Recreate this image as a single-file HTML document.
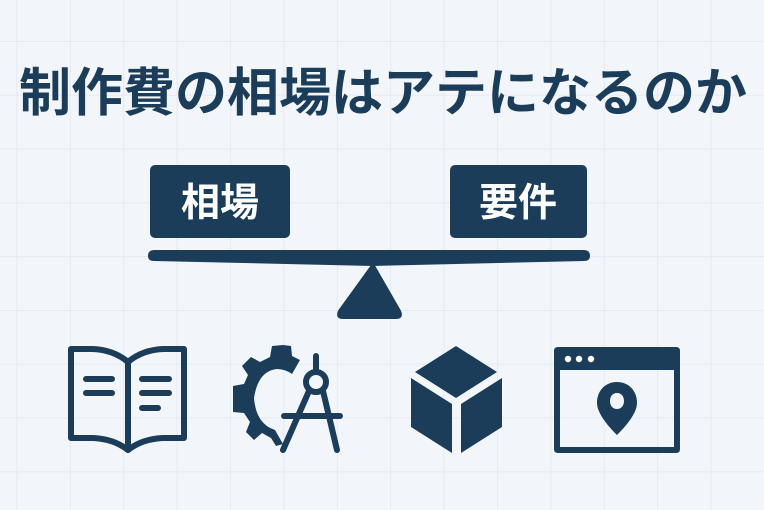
<!DOCTYPE html>
<html><head><meta charset="utf-8"><style>
body{margin:0;width:764px;height:510px;overflow:hidden;background:#f2f5f9;}
svg{display:block}
text{font-family:"Liberation Sans","Noto Sans CJK JP",sans-serif;font-weight:bold}
</style></head><body>
<svg width="764" height="510" viewBox="0 0 764 510" xmlns="http://www.w3.org/2000/svg">
<defs><pattern id="g" x="16.5" y="41" width="53.4" height="53.8" patternUnits="userSpaceOnUse">
<path d="M0 0V53.8M0 0H53.4" stroke="#e2e7ee" stroke-width="1.5" fill="none"/></pattern></defs>
<rect width="764" height="510" fill="url(#g)"/>
<g fill="#1b3d5a" stroke="none">
<text x="383" y="111" font-size="52" text-anchor="middle" fill="#1b3d5a">制作費の相場はアテになるのか</text>
<rect x="150" y="165" width="140" height="73" rx="5"/>
<rect x="450" y="165" width="137" height="73" rx="5"/>
<text x="220" y="216" font-size="39" text-anchor="middle" fill="#fff">相場</text>
<text x="518" y="216" font-size="39" text-anchor="middle" fill="#fff">要件</text>
<path d="M154 250 H584 Q590 250 590 256 Q590 261 584 261 L373 266 L154 261 Q148 261 148 256 Q148 250 154 250Z"/>
<path d="M373 264 L400 311 Q403 318 396 318 H343 Q336 318 339 311Z" stroke="#1b3d5a" stroke-width="2" stroke-linejoin="round"/>
</g>
<g fill="none" stroke="#1b3d5a" stroke-width="6" stroke-linecap="round" stroke-linejoin="round">
<path d="M71 349 H93 Q114 350 128 362 Q142 350 163 349 H184 V438 H163 Q142 439 128 450 Q114 439 93 438 H71Z"/>
<path d="M128 362 V450"/>
<path d="M86 379H112M86 393H112M142 379H169M142 393H169M142 408H158"/>
<circle cx="316" cy="382" r="10"/>
<path d="M316 356V371M309 391L283 450M323 391L337 450M284 416H340"/>
</g>
<g fill="#1b3d5a">
<path d="M283 345 L291 346 L292 356 L300 360 L292 374 Q285 369 277 369 Q258 371 254 398 Q256 424 275 430 L283 444 L276 446 L271 438 L262 433 L254 440 L246 432 L250 422 L244 413 L233 412 L233 386 L244 384 L248 375 L242 366 L251 357 L260 362 L270 357 L272 346Z"/>
<path d="M456 346 L497 372 L456 398 L415 372Z"/>
<path d="M411 378 L452 404 L452 453 L411 427Z"/>
<path d="M502 378 L461 404 L461 453 L502 427Z"/>
<path fill-rule="evenodd" d="M558 347 H676 Q680 347 680 351 V449 Q680 453 676 453 H558 Q554 453 554 449 V351 Q554 347 558 347Z M560 370 V447 H674 V370Z"/>
<circle cx="568" cy="359" r="3.2" fill="#fff"/><circle cx="579" cy="359" r="3.2" fill="#fff"/><circle cx="591" cy="359" r="3.2" fill="#fff"/>
<path fill-rule="evenodd" d="M617 382 C605 382 597 391 597 403 C597 414 610 428 617 435 C624 428 637 414 637 403 C637 391 629 382 617 382Z M617 393 C612 393 610 397 610 401 C610 406 613 409 617 409 C621 409 624 406 624 401 C624 397 622 393 617 393Z"/>
</g>
</svg>
</body></html>
